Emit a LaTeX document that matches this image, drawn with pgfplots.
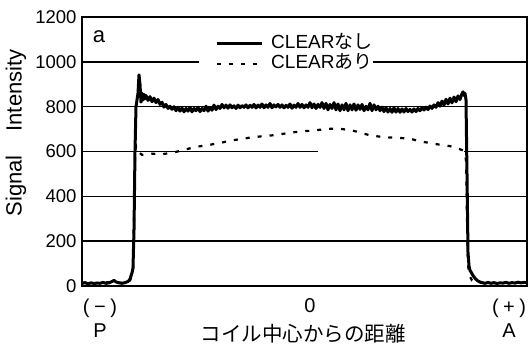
\documentclass[border=0pt]{standalone}
\usepackage{pgfplots}
\pgfplotsset{compat=1.18}
\usepackage{fontspec}
\setmainfont{Liberation Sans}
\newfontfamily\jp{Noto Sans CJK JP}

\begin{document}
\begin{tikzpicture}
\path[use as bounding box] (-82pt,-63pt) rectangle (446pt,286pt);
\begin{axis}[
  at={(0pt,0pt)}, anchor=south west,
  scale only axis, width=445pt, height=269pt,
  xmin=0, xmax=445, ymin=0, ymax=1200,
  axis line style={line width=1.4pt},
  ymajorgrids, grid style={black, line width=1.4pt},
  ytick={0,200,...,1200},
  major tick length=0pt,
  xtick={18,228,427},
  xticklabels={{(\kern4.5pt−\kern4.5pt)\\P},{0},{(\kern4.5pt+\kern4.5pt)\\A}},
  xticklabel style={align=center, font=\fontsize{20}{24}\selectfont, yshift=-9pt},
  yticklabel style={font=\fontsize{18.5}{20}\selectfont, xshift=-2pt},
  /pgf/number format/assume math mode=true,
  /pgf/number format/1000 sep={},
  xlabel={コイル中心からの距離},
  xlabel style={font=\jp\fontsize{20.5}{22}\selectfont, at={(axis description cs:0.497,-0.1784)}, anchor=center},
  ylabel={Signal\hspace{24pt}Intensity},
  ylabel style={font=\fontsize{22}{24}\selectfont, at={(axis description cs:-0.1483,0.569)}, anchor=center},
  legend image code/.code={\path (0pt,0pt) (69pt,0pt); \draw[#1] (16pt,0pt) -- (61pt,0pt);},
  legend style={draw=none, fill=white, inner xsep=0pt, inner ysep=2pt,
    at={(axis description cs:0.263,0.862)}, anchor=west,
    font=\fontsize{19}{20}\selectfont,
    nodes={inner sep=0pt, text height=13pt, text depth=4pt},
    row sep=3.5pt},
  legend cell align=left,
]
\addplot[white, line width=2.5pt, forget plot] coordinates {(236,600) (382,600)};
\addplot[black, line width=3pt, line join=round] coordinates {
(0,12) (3,15) (6,10) (9,14) (12,11) (15,13) (18,12) (21,16) (24,12) (27,14) (30,20) (32,25) (34,18) (37,14) (40,12) (43,15) (46,20) (48,30) (49,45) (50,58) (51,80) (52,250) (53,600) (54,800) (55,830) (56,860) (57,942) (58,900) (59,820) (60,860) (61,830) (62,855) (63,835) (64,850) (66,828) (68,845) (70,822) (72,838) (74,818) (76,832) (78,810) (80,820) (82,798) (84,810) (86,792) (88,802) (90,788) (92,800) (94,782) (96,797) (98,780) (100,794) (102,777) (104,792) (106,780) (108,797) (110,777) (112,792) (114,782) (116,797) (118,778) (120,792) (122,782) (124,802) (126,780) (128,797) (130,784) (132,807) (134,787) (136,802) (138,792) (140,810) (142,795) (144,807) (146,793) (148,808) (150,795) (152,804) (154,792) (156,807) (158,795) (160,805) (162,797) (164,808) (166,795) (168,806) (170,797) (172,810) (174,794) (176,807) (178,797) (180,812) (182,795) (184,808) (186,797) (188,814) (190,795) (192,808) (194,799) (196,810) (198,797) (200,808) (202,795) (204,806) (206,797) (208,812) (210,793) (212,807) (214,797) (216,814) (218,797) (220,810) (222,795) (224,808) (226,797) (228,818) (230,795) (232,812) (234,792) (236,810) (238,797) (240,818) (242,792) (244,815) (246,786) (248,810) (250,792) (252,818) (254,786) (256,812) (258,782) (260,808) (262,786) (264,815) (266,782) (268,808) (270,786) (272,812) (274,784) (276,808) (278,788) (280,810) (282,782) (284,802) (286,786) (288,815) (290,782) (292,808) (294,786) (296,802) (298,782) (300,798) (302,778) (304,795) (306,776) (308,792) (310,775) (312,795) (314,776) (316,792) (318,775) (320,790) (322,776) (324,792) (326,778) (328,788) (330,776) (332,790) (334,778) (336,792) (338,782) (340,795) (342,785) (344,798) (346,787) (348,803) (350,792) (352,808) (354,797) (356,818) (358,802) (360,825) (362,807) (364,833) (366,812) (368,838) (370,817) (372,843) (374,822) (376,848) (378,832) (380,858) (381,866) (382,850) (383,860) (384,830) (385,500) (386,150) (387,90) (388,70) (390,55) (392,40) (394,30) (396,22) (398,18) (400,15) (403,12) (406,16) (409,12) (412,15) (415,11) (418,14) (421,13) (424,16) (427,12) (430,15) (433,13) (436,17) (439,14) (442,16) (445,15)
};
\addlegendentry{CLEAR{\jp なし}}
\addplot[black, line width=2.2pt, dash pattern=on 4pt off 8pt] coordinates {
(0,14) (10,12) (20,15) (30,18) (40,14) (48,25) (50,55) (51,70) (52,300) (53,580) (54,625) (56,600) (60,585) (70,590) (80,588) (91,595) (100,605) (113,620) (128,630) (140,640) (148,648) (158,655) (168,662) (180,668) (190,672) (200,678) (210,685) (220,690) (230,693) (240,698) (250,702) (260,700) (268,696) (278,685) (288,672) (300,665) (310,662) (320,660) (330,655) (338,645) (348,638) (358,630) (368,624) (373,616) (378,610) (381,605) (383,590) (384,560) (385,300) (386,100) (387,50) (390,25) (395,15) (405,13) (420,14) (435,15) (445,14)
};
\addlegendentry{CLEAR{\jp あり}\hspace{22pt}}
\node[font=\fontsize{22}{24}\selectfont] at (axis cs:17,1111) {a};
\end{axis}
\end{tikzpicture}
\end{document}
